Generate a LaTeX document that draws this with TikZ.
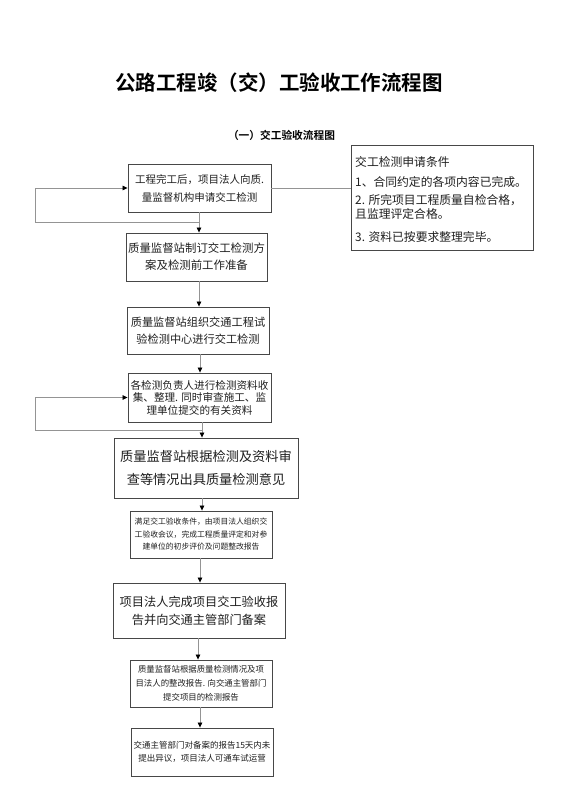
\documentclass[tikz,border=0pt]{standalone}
\usepackage{fontspec}
\usepackage{graphicx}
\setmainfont{Noto Sans CJK SC}[BoldFont={Noto Sans CJK SC Bold}]
\usetikzlibrary{arrows.meta}
\tikzset{
  box/.style={draw=black!72, line width=0.9pt, fill=white, align=center, inner sep=0pt, text=black!88},
  conn/.style={draw=black!42, line width=0.8pt},
  arr/.style={conn, -{Triangle[length=5pt,width=4.6pt,color=black]}},
  rtext/.style={anchor=west, inner sep=0pt, text=black!88, font=\fontsize{11.8}{12}\selectfont},
}
\newcommand{\fs}[2]{\fontsize{#1}{#2}\selectfont}
\begin{document}
\begin{tikzpicture}[x=1pt,y=-1pt]
\fill[white] (0,0) rectangle (560,792);
\useasboundingbox (0,0) rectangle (560,792);

\node[inner sep=0pt] (title) at (279,83) {\resizebox{328pt}{!}{\fs{25}{25}\bfseries 公路工程竣（交）工验收工作流程图}};
\node[font=\fs{10.7}{11}\bfseries] (sub) at (281.5,135) {（一）交工验收流程图};

\node[box,minimum width=143pt,minimum height=48pt,font=\fs{10.5}{18}] (b1) at (199.5,188) {工程完工后，项目法人向质.\\量监督机构申请交工检测};
\node[box,minimum width=141pt,minimum height=48pt,font=\fs{11.4}{17}] (b2) at (196.5,257) {质量监督站制订交工检测方\\案及检测前工作准备};
\node[box,minimum width=142pt,minimum height=47pt,font=\fs{11.2}{17}] (b3) at (198,330.5) {质量监督站组织交通工程试\\验检测中心进行交工检测};
\node[box,minimum width=143pt,minimum height=49pt,font=\fs{10.6}{12.5}] (b4) at (199.5,397.5) {各检测负责人进行检测资料收\\集、整理. 同时审查施工、监\\理单位提交的有关资料};
\node[box,minimum width=184pt,minimum height=60pt,font=\fs{13.2}{23}] (b5) at (206,468) {质量监督站根据检测及资料审\\查等情况出具质量检测意见};
\node[box,minimum width=142pt,minimum height=47pt,font=\fs{7.8}{12.5}] (b6) at (201,534.5) {满足交工验收条件，由项目法人组织交\\工验收会议，完成工程质量评定和对参\\建单位的初步评价及问题整改报告};
\node[box,minimum width=172pt,minimum height=55pt,font=\fs{12.2}{18}] (b7) at (199,610.5) {项目法人完成项目交工验收报\\告并向交通主管部门备案};
\node[box,minimum width=142pt,minimum height=47pt,font=\fs{8.4}{14}] (b8) at (201,683.5) {质量监督站根据质量检测情况及项\\目法人的整改报告. 向交通主管部门\\提交项目的检测报告};
\node[box,minimum width=142pt,minimum height=48pt,font=\fs{8.5}{13.5}] (b9) at (202,752) {交通主管部门对备案的报告15天内未\\提出异议，项目法人可通车试运营};

\node[box,minimum width=182pt,minimum height=105pt] (rb) at (442,197.5) {};
\node[rtext] (r0) at (355,162) {交工检测申请条件};
\node[rtext] (r1) at (355,181.7) {1、合同约定的各项内容已完成。};
\node[rtext] (r2) at (355,200.5) {2. 所完项目工程质量自检合格，};
\node[rtext] (r3) at (355,213.5) {且监理评定合格。};
\node[rtext] (r4) at (355,237.3) {3. 资料已按要求整理完毕。};

\coordinate (xa) at (199,0);
\coordinate (xb) at (199,0);
\coordinate (xc) at (200,0);
\coordinate (xd) at (202,0);
\coordinate (xe) at (202,0);
\coordinate (xf) at (200,0);
\coordinate (xg) at (198,0);
\coordinate (xh) at (200,0);
\coordinate (L1) at (35,222);
\coordinate (L2) at (35,430);

\draw[conn] (b1.east) -- (b1.east -| rb.west);

\draw[arr] (b1.south -| xa) -- (b2.north -| xa);
\draw[arr] (L1 -| xa) -- (L1) |- (b1.west);
\draw[arr] (b2.south -| xb) -- (b3.north -| xb);
\draw[arr] (b3.south -| xc) -- (b4.north -| xc);
\draw[arr] (b4.south -| xd) -- (b5.north -| xd);
\draw[arr] (L2 -| xd) -- (L2) |- (b4.west);
\draw[arr] (b5.south -| xe) -- (b6.north -| xe);
\draw[arr] (b6.south -| xf) -- (b7.north -| xf);
\draw[arr] (b7.south -| xg) -- (b8.north -| xg);
\draw[arr] (b8.south -| xh) -- (b9.north -| xh);
\end{tikzpicture}
\end{document}
